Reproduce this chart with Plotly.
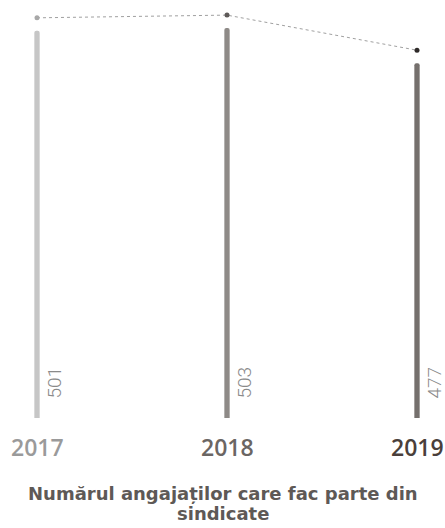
import plotly.graph_objects as go

years = ["2017", "2018", "2019"]
values = [501, 503, 477]
bar_colors = ["#c6c6c6", "#8e8a87", "#75706d"]
dot_colors = ["#a8a8a8", "#5e5a58", "#2e2a28"]
year_colors = ["#9a9a9a", "#6b6663", "#4a3f3b"]
title_lines = ["Numărul angajaților care fac parte din", "sindicate"]

Y_MIN = 214.2
PX_PER_UNIT = 1.35
PLOT_H = 418
Y_MAX = Y_MIN + PLOT_H / PX_PER_UNIT
DOT_SHIFT = 13 / PX_PER_UNIT

fig = go.Figure()
fig.add_trace(go.Bar(
    x=years, y=values, marker=dict(color=bar_colors, line=dict(width=0)),
    width=0.028, hoverinfo="skip", showlegend=False,
))
fig.add_trace(go.Scatter(
    x=years, y=values, yaxis="y2", mode="lines+markers",
    line=dict(color="#a0a0a0", width=1, dash="dot"),
    marker=dict(color=dot_colors, size=5),
    hoverinfo="skip", showlegend=False, cliponaxis=False,
))

annotations = []
for i, (yr, v, c) in enumerate(zip(years, values, year_colors)):
    annotations.append(dict(
        x=i, y=0, xref="x", yref="paper", text=str(v), textangle=-90,
        showarrow=False, xanchor="left", yanchor="bottom", xshift=3, yshift=17,
        font=dict(family="Roboto", size=19, weight=300, color="#8a8a8a"),
    ))
    annotations.append(dict(
        x=i, y=-29 / PLOT_H, xref="x", yref="paper", text=yr,
        showarrow=False, xanchor="center", yanchor="middle",
        font=dict(family="Open Sans", size=23, weight=600, color=c),
    ))
for j, line in enumerate(title_lines):
    annotations.append(dict(
        x=0.5, y=-(75 + 20 * j) / PLOT_H, xref="paper", yref="paper", text=line,
        showarrow=False, xanchor="center", yanchor="middle",
        font=dict(family="DejaVu Sans", size=18, weight="bold", color="#5e5956"),
    ))

fig.update_layout(
    width=445, height=528,
    margin=dict(l=0, r=0, t=0, b=110),
    paper_bgcolor="white", plot_bgcolor="white",
    barcornerradius=3,
    xaxis=dict(type="category", range=[-37 / 190, 2 + 28 / 190],
               showticklabels=False, showgrid=False, zeroline=False, showline=False),
    yaxis=dict(range=[Y_MIN, Y_MAX], showticklabels=False, showgrid=False,
               zeroline=False, showline=False),
    yaxis2=dict(range=[Y_MIN - DOT_SHIFT, Y_MAX - DOT_SHIFT], overlaying="y",
                showticklabels=False, showgrid=False, zeroline=False, showline=False),
    annotations=annotations,
)

fig.write_html("out.html", config={"displayModeBar": False},
               post_script="document.body.style.margin='0';")
